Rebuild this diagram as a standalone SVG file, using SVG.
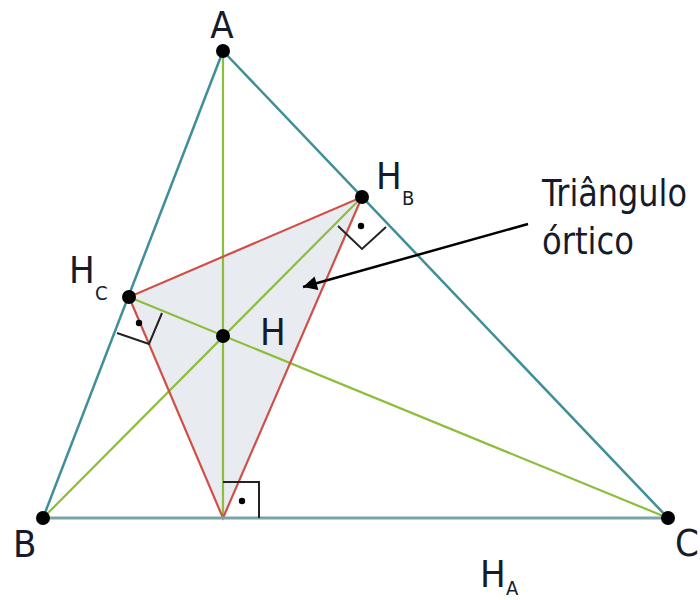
<svg xmlns="http://www.w3.org/2000/svg" width="700" height="600" viewBox="0 0 700 600">
<defs>
<style>
.side{stroke:#3f8e98;stroke-width:2.5;fill:none}
.base{stroke:#7aa3a8;stroke-width:3;fill:none}
.alt{stroke:#8dbd3c;stroke-width:2.2;fill:none}
.orth{stroke:#cf5049;stroke-width:2.2;fill:none}
.ra{stroke:#222;stroke-width:2;fill:none}
.pt{fill:#000}
.lbl{font-family:"DejaVu Sans Condensed","DejaVu Sans",sans-serif;font-stretch:condensed;font-size:38px;fill:#161b2a}
.sub{font-size:20px}
</style>
<marker id="ah" viewBox="0 0 10 10" refX="10" refY="5" markerWidth="26" markerHeight="14" markerUnits="userSpaceOnUse" orient="auto">
<path d="M0,0 L10,5 L0,10 Z" fill="#000"/>
</marker>
</defs>
<g id="orthic-fill"><polygon points="223,518 362,197 129,297" fill="#e8ecf0" stroke="none"/></g>
<g id="connectors">
<line class="alt" x1="223" y1="51" x2="223" y2="518"/>
<line class="alt" x1="43" y1="518" x2="362" y2="197"/>
<line class="alt" x1="668" y1="518" x2="129" y2="297"/>
<polygon class="orth" points="223,518 362,197 129,297"/>
<line class="side" x1="223" y1="51" x2="43" y2="518"/>
<line class="side" x1="223" y1="51" x2="668" y2="518"/>
<line class="base" x1="43" y1="518" x2="668" y2="518"/>
<polyline class="ra" points="223,482 259,482 259,518"/>
<polyline class="ra" points="338,226 362,249 386,227"/>
<polyline class="ra" points="117,333 149,344 162,313"/>
<circle class="pt" cx="242" cy="501" r="3.2"/>
<circle class="pt" cx="361" cy="226" r="3.2"/>
<circle class="pt" cx="139" cy="323" r="3.2"/>
<line x1="528" y1="224" x2="303" y2="287" stroke="#000" stroke-width="2.5" marker-end="url(#ah)"/>
</g>
<g id="A"><circle class="pt" cx="223" cy="51" r="7"/><text class="lbl" x="222" y="38" text-anchor="middle">A</text></g>
<g id="B"><circle class="pt" cx="43" cy="518" r="7"/><text class="lbl" x="13" y="557">B</text></g>
<g id="C"><circle class="pt" cx="668" cy="518" r="7"/><text class="lbl" x="675" y="556">C</text></g>
<g id="HA"><text class="lbl" x="480" y="587">H</text><text class="lbl sub" x="506" y="595">A</text></g>
<g id="HB"><circle class="pt" cx="362" cy="197" r="7"/><text class="lbl" x="376" y="189">H</text><text class="lbl sub" x="402" y="205">B</text></g>
<g id="HC"><circle class="pt" cx="129" cy="297" r="7"/><text class="lbl" x="69" y="283">H</text><text class="lbl sub" x="95" y="300">C</text></g>
<g id="H"><circle class="pt" cx="223" cy="336" r="7"/><text class="lbl" x="260" y="345">H</text></g>
<g id="label"><text class="lbl" x="542" y="206" textLength="145" lengthAdjust="spacingAndGlyphs">Triângulo</text><text class="lbl" x="542" y="254" textLength="92" lengthAdjust="spacingAndGlyphs">órtico</text></g>
</svg>
